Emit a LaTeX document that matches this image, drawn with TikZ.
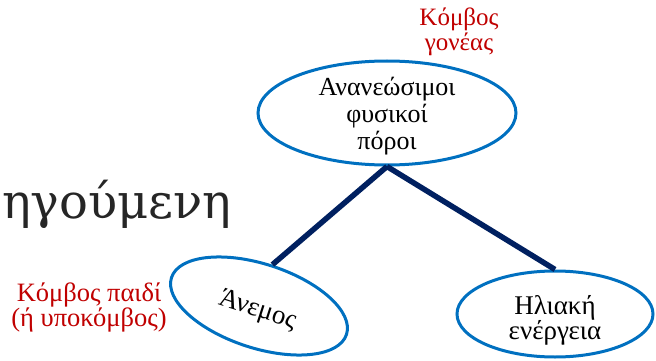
\documentclass[tikz,border=0pt]{standalone}
\usepackage{fontspec}
\setmainfont{Liberation Serif}
\newfontfamily\bigfont{DejaVu Serif}
\usetikzlibrary{shapes.geometric}
\definecolor{nodeblue}{RGB}{0,112,192}
\definecolor{linknavy}{RGB}{0,32,96}
\definecolor{notered}{RGB}{192,0,0}
\definecolor{headgray}{RGB}{38,38,38}
\begin{document}
\begin{tikzpicture}[x=1pt,y=-1pt,
  topic/.style={ellipse, draw=nodeblue, line width=3pt, inner sep=0pt},
  topictext/.style={align=center, inner sep=0pt, font=\fontsize{26}{27}\selectfont},
  link/.style={draw=linknavy, line width=5.5pt},
  note/.style={text=notered, align=center, inner sep=0pt}]
\useasboundingbox (0,0) rectangle (656,361);
% tree: parent node and its two children
\node[topic, minimum width=258pt, minimum height=104pt] (root) at (387,113) {};
\node[topictext, yshift=-3pt] (roottext) at (root.center) {Ανανεώσιμοι\\φυσικοί\\πόροι};
\node[topic, minimum width=184pt, minimum height=84pt, rotate=-18] (wind) at (259,306) {};
\node[topictext, font=\fontsize{27}{27}\selectfont, rotate=-18, yshift=-5pt] (windtext) at (wind.center) {Άνεμος};
\node[topic, minimum width=196pt, minimum height=86pt] (sun) at (555,314) {};
\node[topictext, font=\fontsize{27}{25}\selectfont, yshift=-6pt] (suntext) at (sun.center) {Ηλιακή\\ενέργεια};
\draw[link] (root.south) -- (wind.north);
\draw[link] (root.south) -- (sun.north);
% annotations
\node[note, font=\fontsize{25}{25}\selectfont] (parent) at (459,32) {Κόμβος\\γονέας};
\node[note, font=\fontsize{26.5}{25}\selectfont] (child) at (89,307) {Κόμβος παιδί\\(ή υποκόμβος)};
\node[anchor=base west, inner sep=0pt, text=headgray, font=\bigfont\fontsize{48}{60}\selectfont] (head) at (2,218) {ηγούμενη};
\end{tikzpicture}
\end{document}
